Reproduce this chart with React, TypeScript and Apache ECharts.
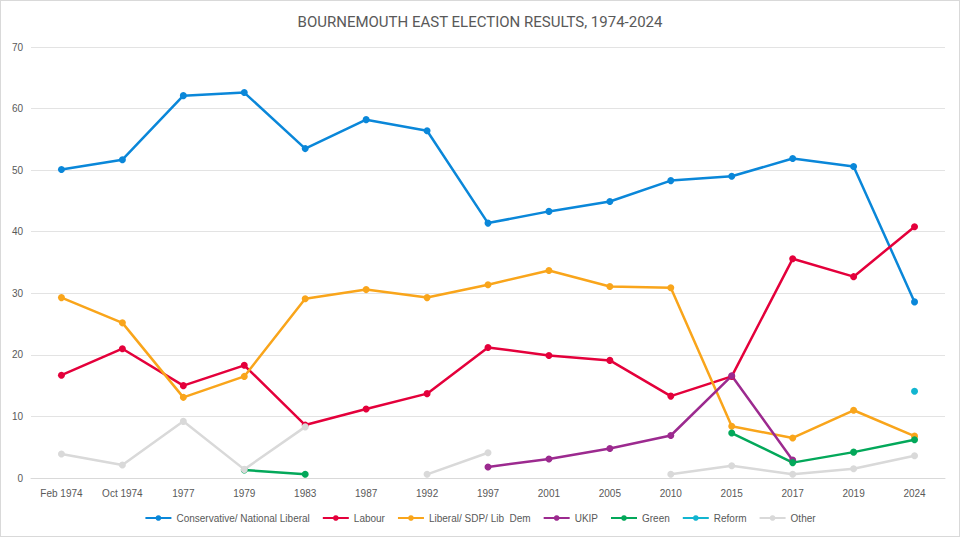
import { useEffect, useRef } from "react";
import * as echarts from "echarts";

const elections = [
  "Feb 1974", "Oct 1974", "1977", "1979", "1983", "1987", "1992", "1997",
  "2001", "2005", "2010", "2015", "2017", "2019", "2024",
];

const conservative = [50.1, 51.7, 62.1, 62.6, 53.5, 58.2, 56.4, 41.4, 43.3, 44.9, 48.3, 49.0, 51.9, 50.6, 28.6];
const labour = [16.7, 21.0, 15.0, 18.3, 8.6, 11.2, 13.7, 21.2, 19.9, 19.1, 13.3, 16.5, 35.6, 32.7, 40.8];
const liberal = [29.3, 25.2, 13.1, 16.5, 29.1, 30.6, 29.3, 31.4, 33.7, 31.1, 30.9, 8.4, 6.5, 11.0, 6.8];
const ukip = [null, null, null, null, null, null, null, 1.8, 3.1, 4.8, 6.9, 16.6, 2.9, null, null];
const green = [null, null, null, 1.3, 0.6, null, null, null, null, null, null, 7.3, 2.5, 4.2, 6.2];
const reform = [null, null, null, null, null, null, null, null, null, null, null, null, null, null, 14.1];
const other = [3.9, 2.1, 9.2, 1.4, 8.3, null, 0.6, 4.1, null, null, 0.6, 2.0, 0.6, 1.5, 3.6];

const FONT = "'Liberation Sans', Arial, sans-serif";

const parties = [
  { name: "Conservative/ National Liberal", color: "#0a87d9", data: conservative },
  { name: "Labour", color: "#e4003b", data: labour },
  { name: "Liberal/ SDP/ Lib  Dem", color: "#f9a51b", data: liberal },
  { name: "UKIP", color: "#9c2a8f", data: ukip },
  { name: "Green", color: "#03a85a", data: green },
  { name: "Reform", color: "#12b5d0", data: reform },
  { name: "Other", color: "#d9d9d9", data: other },
];

export default function App() {
  const chartRef = useRef<HTMLDivElement>(null);

  useEffect(() => {
    document.body.style.margin = "0";
    if (!chartRef.current) return;
    const chart = echarts.init(chartRef.current, undefined, { renderer: "svg" });
    chart.setOption({
      animation: false,
      backgroundColor: "#ffffff",
      title: {
        text: "BOURNEMOUTH EAST ELECTION RESULTS, 1974-2024",
        left: "center",
        top: 8,
        textStyle: { color: "#595959", fontSize: 15, fontWeight: "normal", fontFamily: "Roboto, " + FONT },
      },
      grid: { left: 30, right: 14, top: 46, bottom: 58 },
      legend: {
        bottom: 8,
        itemWidth: 26,
        itemHeight: 7,
        itemGap: 12,
        textStyle: { color: "#595959", fontSize: 10, fontFamily: FONT },
        data: parties.map((p) => p.name),
      },
      xAxis: {
        type: "category",
        data: elections,
        boundaryGap: true,
        axisLine: { lineStyle: { color: "#d9d9d9" } },
        axisTick: { show: false },
        axisLabel: { color: "#595959", fontSize: 10, fontFamily: FONT, margin: 10, interval: 0 },
      },
      yAxis: {
        type: "value",
        min: 0,
        max: 70,
        interval: 10,
        axisLine: { show: false },
        axisTick: { show: false },
        splitLine: { lineStyle: { color: "#e3e3e3" } },
        axisLabel: { color: "#595959", fontSize: 10, fontFamily: FONT, margin: 8 },
      },
      series: parties.map((p) => ({
        name: p.name,
        type: "line",
        data: p.data,
        symbol: "circle",
        symbolSize: 7,
        showAllSymbol: true,
        connectNulls: false,
        itemStyle: { color: p.color },
        lineStyle: { color: p.color, width: 2.5 },
        emphasis: { disabled: true },
      })),
    });
    return () => chart.dispose();
  }, []);

  return (
    <div
      ref={chartRef}
      style={{ width: 958, height: 535, border: "1px solid #d9d9d9" }}
    />
  );
}
